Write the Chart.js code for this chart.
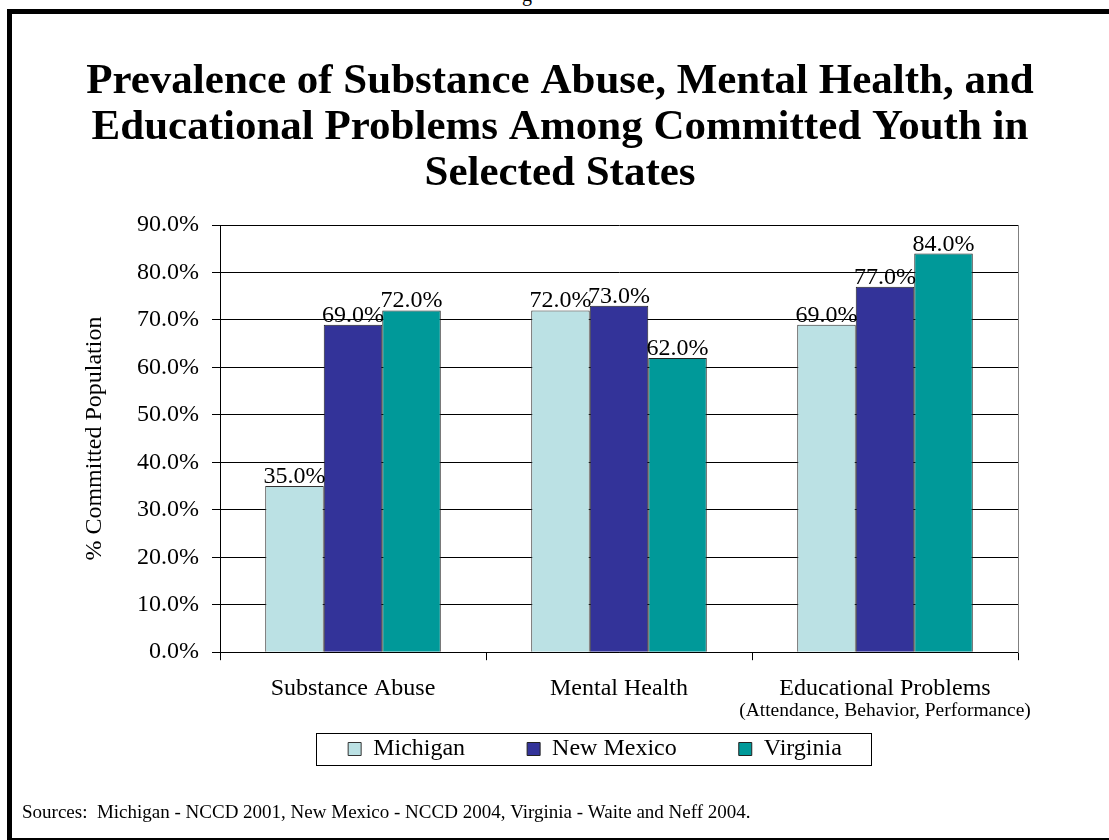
<!DOCTYPE html>
<html>
<head>
<meta charset="utf-8">
<script src="https://cdn.jsdelivr.net/npm/chart.js@4.4.1/dist/chart.umd.min.js"></script>
<style>
  html, body { margin: 0; padding: 0; background: #fff; overflow: hidden; }
  #wrap { position: relative; width: 1109px; height: 840px; overflow: hidden; }
  #frame { position: absolute; left: 7px; top: 9px; width: 1200px; height: 824px;
           border-left: 5px solid #000; border-top: 5px solid #000; border-bottom: 5px solid #000; }
  #pg { position: absolute; left: 522px; top: -16px; font: 20px 'Liberation Serif', serif; line-height: 20px; }
  canvas { position: absolute; left: 0; top: 0; }
</style>
</head>
<body>
<div id="wrap">
  <div id="pg">g</div>
  <div id="frame"></div>
  <canvas id="prevalenceChart" width="1109" height="840"></canvas>
</div>
<script>
// data
var categories = ['Substance Abuse', 'Mental Health', 'Educational Problems'];
var categoryNotes = ['', '', '(Attendance, Behavior, Performance)'];
var states = ['Michigan', 'New Mexico', 'Virginia'];
var michigan = [35, 72, 69];
var newMexico = [69, 73, 77];
var virginia = [72, 62, 84];
var yTicks = [0, 10, 20, 30, 40, 50, 60, 70, 80, 90];

var serif = "'Liberation Serif', 'Times New Roman', serif";

// value labels above each bar
var barLabels = {
  id: 'barLabels',
  afterDatasetsDraw: function (chart) {
    var ctx = chart.ctx;
    ctx.save();
    ctx.font = '24px ' + serif;
    ctx.fillStyle = '#000';
    ctx.textAlign = 'center';
    ctx.textBaseline = 'alphabetic';
    chart.data.datasets.forEach(function (ds, i) {
      chart.getDatasetMeta(i).data.forEach(function (bar, j) {
        ctx.fillText(ds.data[j].toFixed(1) + '%', bar.x, bar.y - 3);
      });
    });
    ctx.restore();
  }
};

// small second line under a category label
var categoryNoteLabels = {
  id: 'categoryNoteLabels',
  afterDraw: function (chart) {
    var ctx = chart.ctx;
    var xs = chart.scales.x;
    ctx.save();
    ctx.font = '19.5px ' + serif;
    ctx.fillStyle = '#000';
    ctx.textAlign = 'center';
    ctx.textBaseline = 'middle';
    categoryNotes.forEach(function (note, j) {
      if (note) ctx.fillText(note, xs.getPixelForValue(j), xs.top + 59);
    });
    ctx.restore();
  }
};

// move legend up/right under the axis labels and put a box round it
var legendBox = {
  id: 'legendBox',
  afterLayout: function (chart) {
    var lg = chart.legend;
    var dx = 595 - (lg.left + lg.right) / 2;
    var dy = 675 - lg.top;
    lg.left += dx; lg.right += dx;
    lg.top += dy; lg.bottom += dy;
  },
  afterDraw: function (chart) {
    var hb = chart.legend.legendHitBoxes;
    if (!hb || !hb.length) return;
    var first = hb[0], last = hb[hb.length - 1];
    var x0 = Math.round(first.left - 32), x1 = Math.round(last.left + last.width + 29);
    var cy = Math.round(first.top + first.height / 2);
    var ctx = chart.ctx;
    ctx.save();
    ctx.strokeStyle = '#000';
    ctx.lineWidth = 1;
    ctx.strokeRect(x0 + 0.5, cy - 16 + 0.5, x1 - x0, 32);
    ctx.restore();
  }
};

var ctx = document.getElementById('prevalenceChart').getContext('2d');
var chart = new Chart(ctx, {
  type: 'bar',
  data: {
    labels: categories,
    datasets: [
      { label: states[0], data: michigan, backgroundColor: '#BBE1E4', borderColor: '#333333', borderWidth: 1 },
      { label: states[1], data: newMexico, backgroundColor: '#333399', borderColor: '#222222', borderWidth: 1 },
      { label: states[2], data: virginia, backgroundColor: '#009999', borderColor: '#222222', borderWidth: 1 }
    ]
  },
  options: {
    responsive: false,
    animation: false,
    events: [],
    datasets: { bar: { categoryPercentage: 0.66, barPercentage: 1.0 } },
    layout: { padding: { left: 22, right: 11, top: 0, bottom: 0 }, autoPadding: false },
    plugins: {
      title: {
        display: true,
        text: ['Prevalence of Substance Abuse, Mental Health, and',
               'Educational Problems Among Committed Youth in',
               'Selected States'],
        color: '#000',
        font: { family: serif, size: 43, weight: 'bold', lineHeight: 1.07 },
        padding: { top: 59, bottom: 28 }
      },
      subtitle: {
        display: true,
        position: 'bottom',
        align: 'start',
        text: 'Sources:  Michigan - NCCD 2001, New Mexico - NCCD 2004, Virginia - Waite and Neff 2004.',
        color: '#000',
        font: { family: serif, size: 19 },
        padding: { top: 0, bottom: 16 }
      },
      legend: {
        position: 'bottom',
        labels: {
          color: '#000',
          font: { family: serif, size: 24 },
          boxWidth: 13,
          boxHeight: 13,
          padding: 62
        }
      },
      tooltip: { enabled: false }
    },
    scales: {
      x: {
        offset: true,
        grid: { drawOnChartArea: false, drawTicks: true, tickLength: 8, color: '#000', lineWidth: 1 },
        border: { display: true, color: '#000', width: 1 },
        ticks: { color: '#000', font: { family: serif, size: 24 }, padding: 14, maxRotation: 0, autoSkip: false },
        afterFit: function (s) { s.height = 53; }
      },
      y: {
        min: 0,
        max: 90,
        afterBuildTicks: function (s) { s.ticks = yTicks.map(function (v) { return { value: v }; }); },
        grid: { color: '#000', lineWidth: 1, drawTicks: true, tickLength: 8 },
        border: { display: true, color: '#000', width: 1 },
        ticks: {
          color: '#000',
          font: { family: serif, size: 24 },
          padding: 13,
          callback: function (v) { return v.toFixed(1) + '%'; }
        },
        title: {
          display: true,
          text: '% Committed Population',
          color: '#000',
          font: { family: serif, size: 24 },
          padding: { top: 58, bottom: 0 }
        },
        afterFit: function (s) { s.width = 198; }
      },
      y2: {
        position: 'right',
        min: 0,
        max: 90,
        grid: { display: false },
        ticks: { display: false },
        border: { display: true, color: '#808080', width: 1 },
        afterFit: function (s) { s.width = 80; }
      }
    }
  },
  plugins: [barLabels, categoryNoteLabels, legendBox]
});
</script>
</body>
</html>
